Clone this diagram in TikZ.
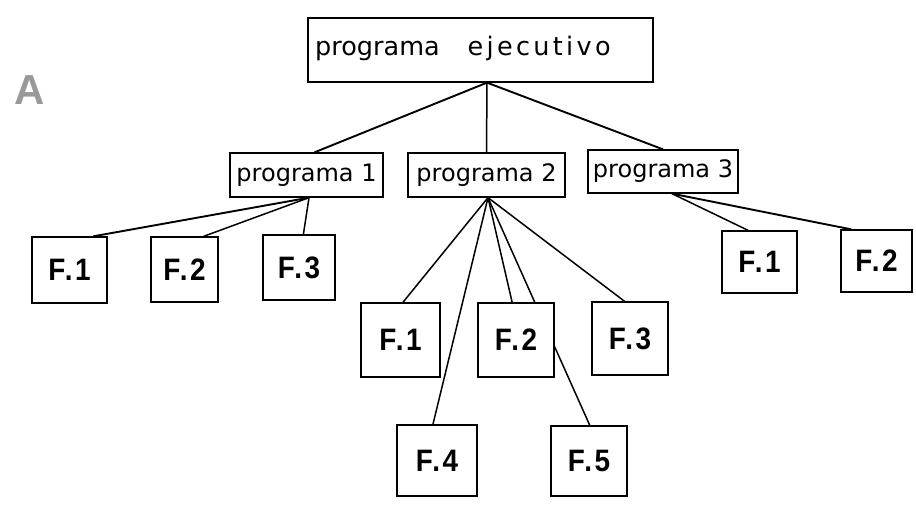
\documentclass[tikz,border=0pt]{standalone}
\usepackage{fontspec}
\setmainfont{DejaVu Sans}
\newfontfamily\pfont{DejaVu Sans}
\newfontfamily\ffont[FakeStretch=0.9,LetterSpace=8]{Liberation Sans}
\newfontfamily\afont{Liberation Sans}
\usetikzlibrary{calc}
\pgfdeclarelayer{background}
\pgfsetlayers{background,main}
\begin{document}
\begin{tikzpicture}[x=1pt,y=-1pt,
  pbox/.style={draw=black,line width=1.3pt,fill=white,inner sep=0pt,
    font=\pfont\fontsize{24}{24}\selectfont},
  fbox/.style={draw=black,line width=1.3pt,fill=white,inner sep=0pt,
    font=\ffont\bfseries\fontsize{31}{31}\selectfont},
  link/.style={line width=1.5pt,black},
  thick link/.style={line width=1.9pt,black}]
\useasboundingbox (0,0) rectangle (916,513);

% letter A
\node[font=\afont\bfseries\fontsize{42}{42}\selectfont,text=black!40,inner sep=0pt] (lbl) at (30,90) {A};

% top box
\node[pbox,minimum width=345pt,minimum height=64pt] (top) at (480.5,50) {};
\node[anchor=base west,inner sep=0pt,font=\pfont\fontsize{25.5}{25.5}\selectfont] (toptext) at (315,56)
  {programa\hspace{28pt}{\addfontfeature{LetterSpace=13}ejecutivo}};

% second level
\node[pbox,minimum width=153pt,minimum height=44pt] (p1) at (306.5,175) {programa 1};
\node[pbox,minimum width=157pt,minimum height=44pt] (p2) at (486.5,175) {programa 2};
\node[pbox,minimum width=150pt,minimum height=43pt] (p3) at (663,171.5) {programa 3};

% leaves of programa 1
\node[fbox,minimum width=75pt,minimum height=66pt] (lf1) at (69.5,270) {F.1};
\node[fbox,minimum width=67pt,minimum height=65pt] (lf2) at (184.5,269.5) {F.2};
\node[fbox,minimum width=72pt,minimum height=65pt] (lf3) at (299,267.5) {F.3};

% leaves of programa 2
\node[fbox,minimum width=79pt,minimum height=74pt] (mf1) at (400.5,340) {F.1};
\node[fbox,minimum width=76pt,minimum height=74pt] (mf2) at (516,340) {F.2};
\node[fbox,minimum width=76pt,minimum height=73pt] (mf3) at (630,338.5) {F.3};
\node[fbox,minimum width=80pt,minimum height=71pt] (mf4) at (437,460.5) {F.4};
\node[fbox,minimum width=76pt,minimum height=70pt] (mf5) at (589,461) {F.5};

% leaves of programa 3
\node[fbox,minimum width=75pt,minimum height=62pt] (rf1) at (759.5,262) {F.1};
\node[fbox,minimum width=71pt,minimum height=62pt] (rf2) at (876.5,261) {F.2};

% hubs
\coordinate (h0) at ($(top.south)+(6.5,0)$);
\coordinate (h1) at ($(p1.south)+(2.5,0)$);
\coordinate (h2) at ($(p2.south)+(1.5,0)$);
\coordinate (h3) at ($(p3.south)+(9,0)$);

\begin{pgfonlayer}{background}
\draw[thick link] (h0) -- ($(p1.north)+(8,0)$);
\draw[link] (h0) -- (p2.north);
\draw[thick link] (h0) -- (p3.north);

\draw[thick link] (h1) -- ($(lf1.north west)!0.81!(lf1.north east)$);
\draw[link] (h1) -- ($(lf2.north west)!0.78!(lf2.north east)$);
\draw[link] (h1) -- ($(lf3.north west)!0.56!(lf3.north east)$);

\draw[link] (h2) -- ($(mf1.north west)!0.53!(mf1.north east)$);
\draw[link] (h2) -- ($(mf4.north west)!0.45!(mf4.north east)$);
\draw[link] (h2) -- ($(mf2.north west)!0.45!(mf2.north east)$);
\draw[link] (h2) -- ($(mf5.north west)!0.51!(mf5.north east)$);
\draw[link] (h2) -- ($(mf3.north west)!0.43!(mf3.north east)$);

\draw[link] (h3) -- ($(rf1.north west)!0.35!(rf1.north east)$);
\draw[thick link] (h3) -- ($(rf2.north west)!0.15!(rf2.north east)$);
\end{pgfonlayer}
\end{tikzpicture}
\end{document}
